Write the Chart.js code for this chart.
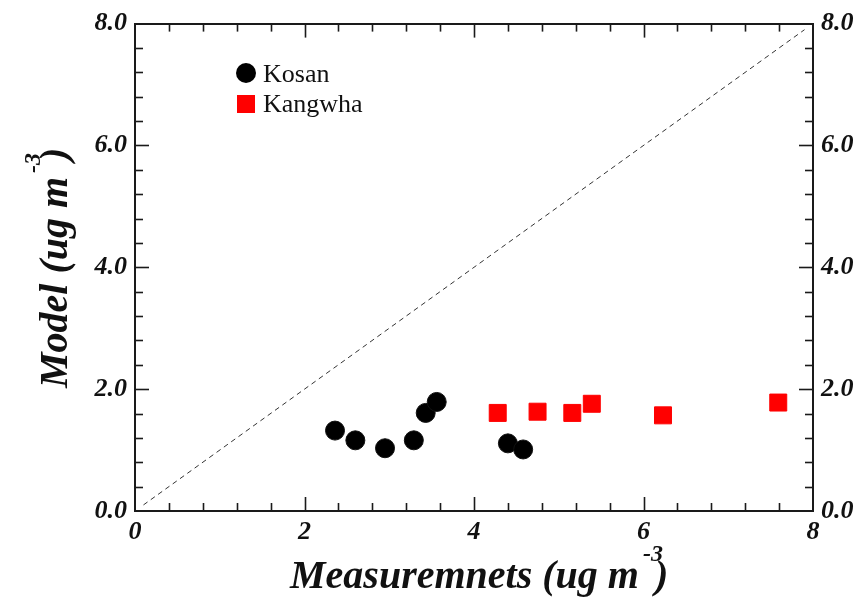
<!DOCTYPE html>
<html>
<head>
<meta charset="utf-8">
<script src="https://cdn.jsdelivr.net/npm/chart.js@4/dist/chart.umd.min.js"></script>
<style>
  html, body { margin: 0; padding: 0; background: #fff; }
  #wrap { width: 867px; height: 599px; }
</style>
</head>
<body>
<div id="wrap"><canvas id="scatter"></canvas></div>
<script>
// Kosan site
const kosanX = [2.36, 2.60, 2.95, 3.29, 3.43, 3.56, 4.40, 4.58];
const kosanY = [1.32, 1.16, 1.03, 1.16, 1.61, 1.79, 1.11, 1.01];
// Kangwha site
const kangwhaX = [4.28, 4.75, 5.16, 5.39, 6.23, 7.59];
const kangwhaY = [1.61, 1.63, 1.61, 1.76, 1.57, 1.78];
// 1:1 reference line
const diagX = [0.1, 7.9];
const diagY = [0.1, 7.9];

const xTickLabels = ['0', '2', '4', '6', '8'];
const yTickLabels = ['0.0', '2.0', '4.0', '6.0', '8.0'];
const majorStep = 2;
const minorStep = 0.4;
const axisMax = 8;

const serif = "'Liberation Serif', 'Times New Roman', serif";

function toPoints(xs, ys) {
    return xs.map((x, i) => ({ x: x, y: ys[i] }));
}

function isMajor(v) {
    return Math.abs(v / majorStep - Math.round(v / majorStep)) < 1e-6;
}

function allTicks() {
    const ticks = [];
    const n = Math.round(axisMax / minorStep);
    for (let i = 0; i <= n; i++) ticks.push({ value: +(i * minorStep).toFixed(4) });
    return ticks;
}

function labelFor(list) {
    return function(value) {
        if (!isMajor(value)) return '';
        return list[Math.round(value / majorStep)];
    };
}

const tickFont = { family: serif, size: 26, style: 'italic', weight: 'bold' };
const border = { display: true, color: '#1a1a1a', width: 2 };

function sideScale(position, size, labels) {
    const horizontal = position === 'top' || position === 'bottom';
    return {
        type: 'linear',
        position: position,
        min: 0,
        max: axisMax,
        grid: { display: false, drawTicks: false },
        border: border,
        afterBuildTicks: s => { s.ticks = allTicks(); },
        afterFit: s => { if (horizontal) s.height = size; else s.width = size; },
        ticks: {
            display: !!labels,
            autoSkip: false,
            maxRotation: 0,
            padding: horizontal ? 6 : 8,
            color: '#111',
            font: tickFont,
            callback: labels ? labelFor(labels) : () => ''
        }
    };
}

// inward major/minor tick marks on all four sides
const innerTicks = {
    id: 'innerTicks',
    afterDraw(chart) {
        const { ctx, chartArea: a } = chart;
        ctx.save();
        ctx.strokeStyle = '#1a1a1a';
        ctx.lineWidth = 1.6;
        ['x', 'x2', 'y', 'y2'].forEach(id => {
            const s = chart.scales[id];
            s.ticks.forEach(t => {
                if (t.value <= 0 || t.value >= axisMax) return;
                const len = isMajor(t.value) ? 14 : 8;
                const p = Math.round(s.getPixelForValue(t.value)) + 0.5;
                ctx.beginPath();
                if (id === 'x') { ctx.moveTo(p, a.bottom); ctx.lineTo(p, a.bottom - len); }
                if (id === 'x2') { ctx.moveTo(p, a.top); ctx.lineTo(p, a.top + len); }
                if (id === 'y') { ctx.moveTo(a.left, p); ctx.lineTo(a.left + len, p); }
                if (id === 'y2') { ctx.moveTo(a.right, p); ctx.lineTo(a.right - len, p); }
                ctx.stroke();
            });
        });
        ctx.restore();
    }
};

// draws "text" then a raised "-3" and the closing paren
function drawUnitTitle(ctx, main, x, y) {
    ctx.font = "italic bold 40px " + serif;
    ctx.fillText(main, x, y);
    const w = ctx.measureText(main).width;
    ctx.font = "italic bold 24px " + serif;
    ctx.fillText('-3', x + w + 4, y - 27);
    ctx.font = "italic bold 40px " + serif;
    ctx.fillText(')', x + w + 16, y);
}

const titlesAndLegend = {
    id: 'titlesAndLegend',
    afterDraw(chart) {
        const ctx = chart.ctx;
        ctx.save();
        ctx.fillStyle = '#111';
        ctx.textAlign = 'left';
        ctx.textBaseline = 'alphabetic';
        drawUnitTitle(ctx, 'Measuremnets (ug m', 290, 588);

        ctx.save();
        ctx.translate(67, 388);
        ctx.rotate(-Math.PI / 2);
        drawUnitTitle(ctx, 'Model (ug m', 0, 0);
        ctx.restore();

        // legend
        ctx.fillStyle = '#000';
        ctx.beginPath();
        ctx.arc(246, 73, 10, 0, Math.PI * 2);
        ctx.fill();
        ctx.fillStyle = '#ff0000';
        ctx.fillRect(237, 95, 18, 18);
        ctx.fillStyle = '#111';
        ctx.font = "26px " + serif;
        ctx.fillText(chart.data.datasets[0].label, 263, 82);
        ctx.fillText(chart.data.datasets[1].label, 263, 112);
        ctx.restore();
    }
};

new Chart(document.getElementById('scatter'), {
    type: 'scatter',
    data: {
        datasets: [
            {
                label: 'Kosan',
                data: toPoints(kosanX, kosanY),
                pointStyle: 'circle',
                pointRadius: 9.5,
                pointHoverRadius: 9.5,
                backgroundColor: '#000',
                borderColor: '#111',
                borderWidth: 1
            },
            {
                label: 'Kangwha',
                data: toPoints(kangwhaX, kangwhaY),
                pointStyle: 'rect',
                pointRadius: 12,
                pointHoverRadius: 12,
                backgroundColor: '#ff0000',
                borderColor: '#ff0000',
                borderWidth: 1
            },
            {
                label: '1:1',
                type: 'line',
                data: toPoints(diagX, diagY),
                showLine: true,
                pointRadius: 0,
                borderColor: '#333',
                borderWidth: 1,
                borderDash: [5, 4],
                fill: false
            }
        ]
    },
    options: {
        responsive: true,
        maintainAspectRatio: false,
        animation: false,
        layout: { padding: 0 },
        plugins: {
            legend: { display: false },
            tooltip: { enabled: false }
        },
        scales: {
            x: sideScale('bottom', 88, xTickLabels),
            x2: sideScale('top', 20, null),
            y: sideScale('left', 135, yTickLabels),
            y2: sideScale('right', 54, yTickLabels)
        }
    },
    plugins: [innerTicks, titlesAndLegend]
});
</script>
</body>
</html>
